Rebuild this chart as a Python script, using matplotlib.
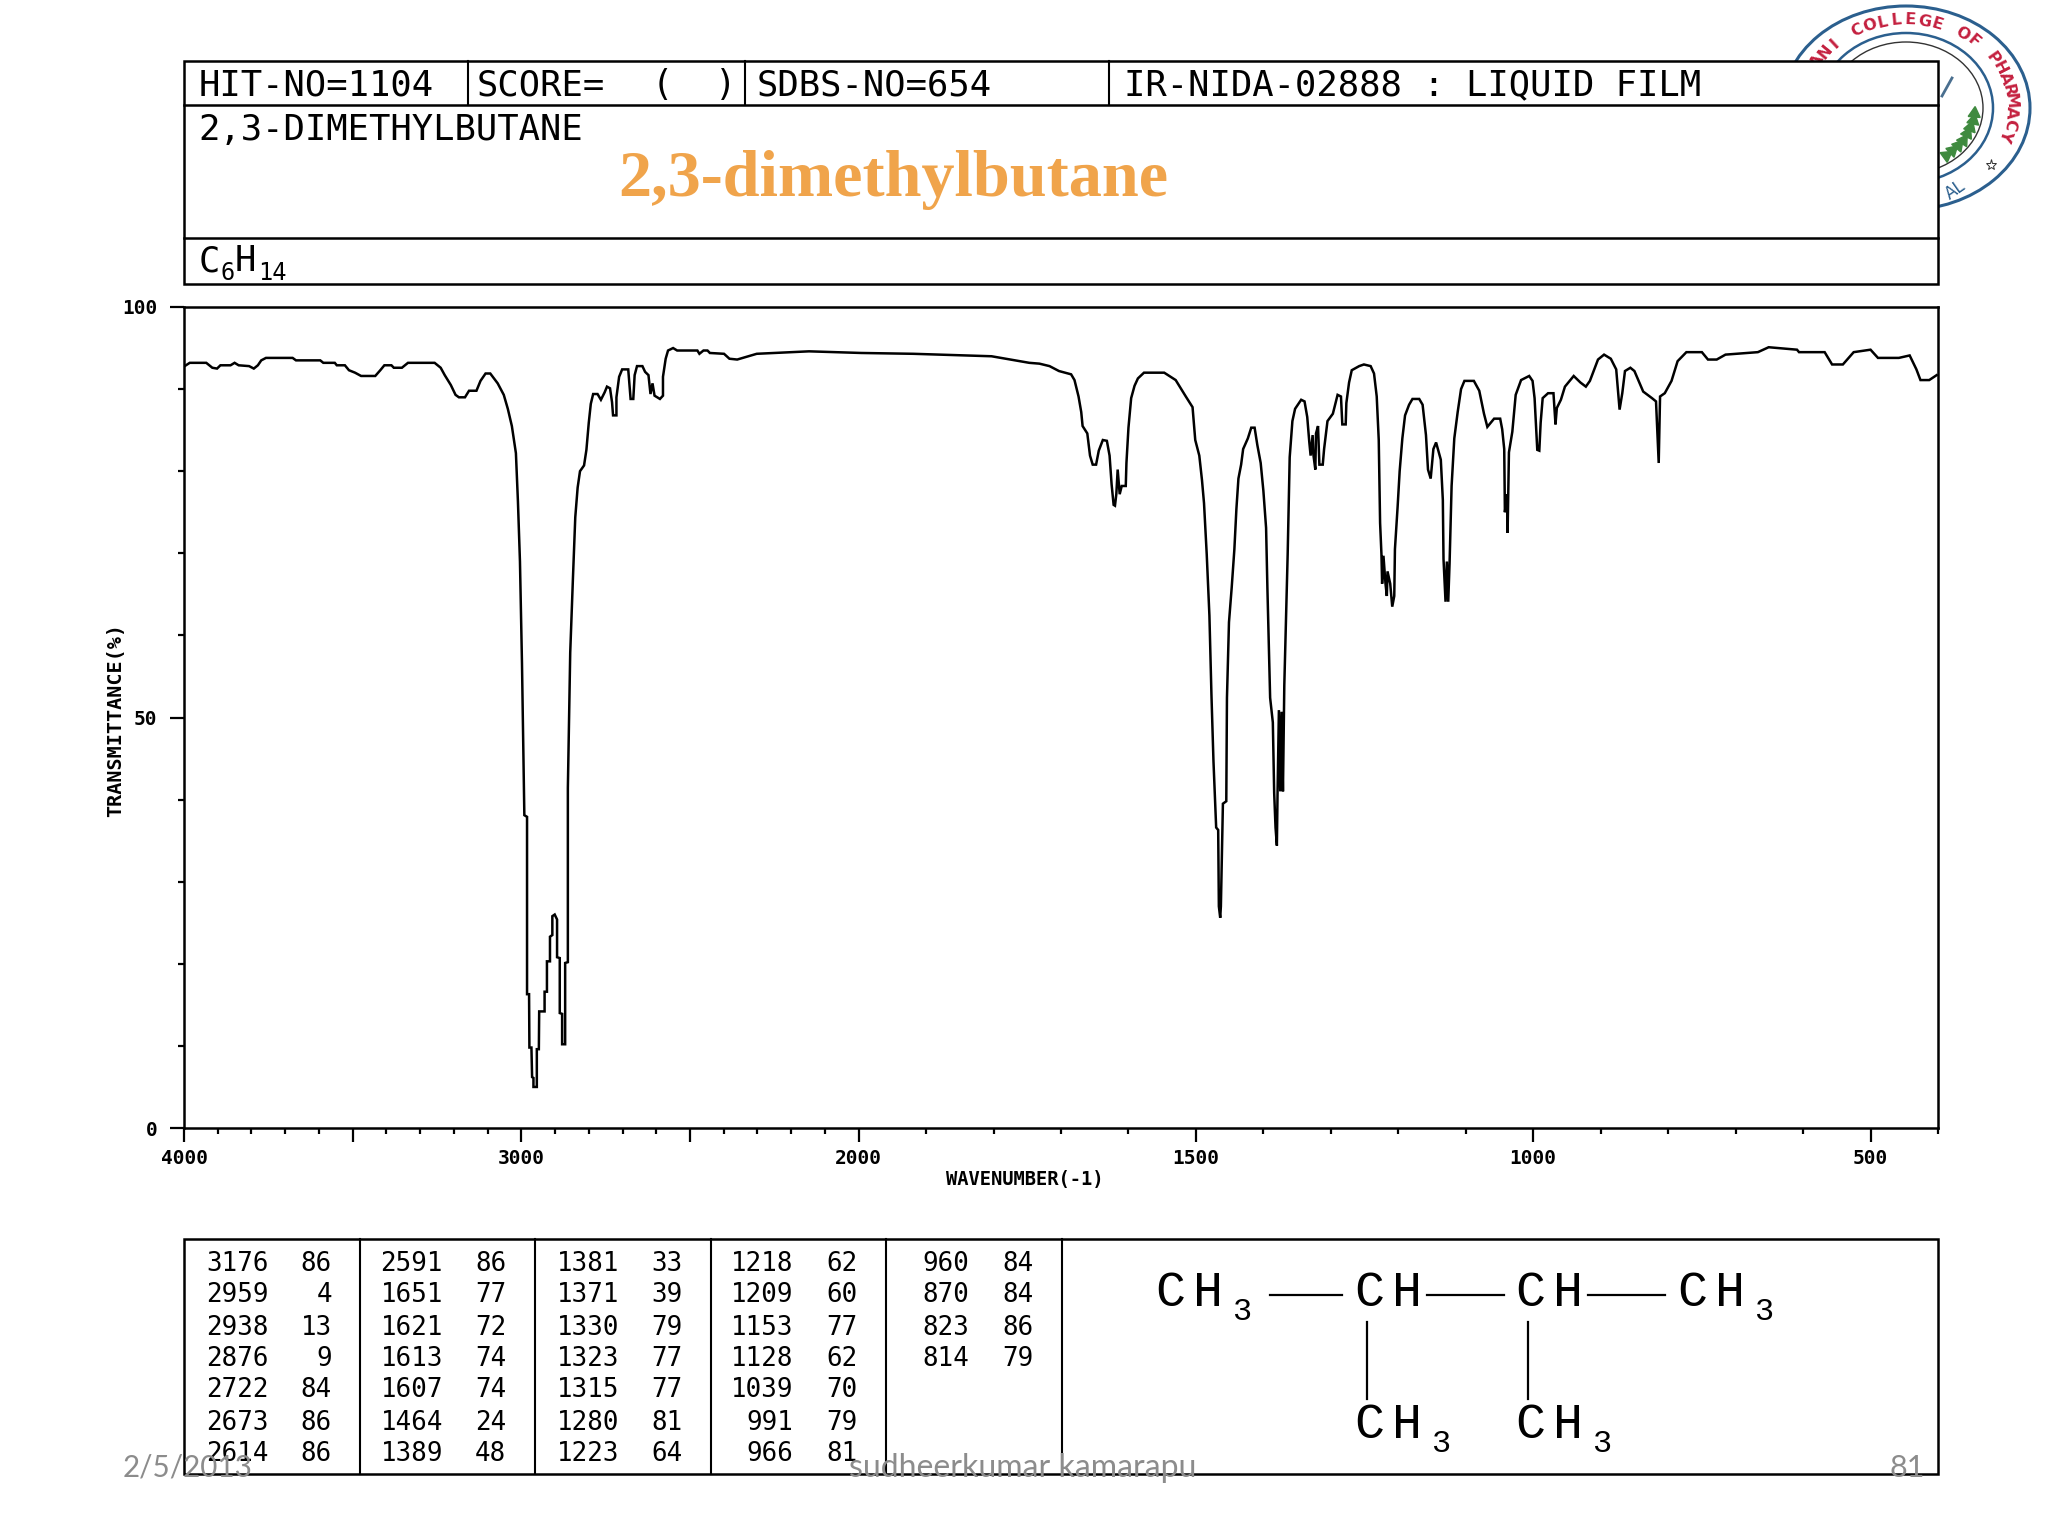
import numpy as np
import matplotlib
matplotlib.use("Agg")
import matplotlib.pyplot as plt
from matplotlib.patches import Rectangle, Ellipse

# spectrum (wavenumber, transmittance)
wavenumber = [3998, 3983, 3934, 3916, 3902, 3892, 3862, 3850, 3838, 3807, 3793, 3781, 3771, 3757, 3678, 3668,
              3596, 3587, 3553, 3547, 3523, 3511, 3493, 3475, 3433, 3418, 3406, 3385, 3378, 3354, 3336, 3257,
              3239, 3227, 3209, 3195, 3185, 3167, 3155, 3133, 3121, 3106, 3092, 3070, 3052, 3040, 3028, 3016,
              3010, 3004, 2998, 2991, 2983, 2983, 2977, 2976, 2970, 2968, 2964, 2964, 2954, 2954, 2948, 2947,
              2931, 2931, 2924, 2924, 2915, 2915, 2908, 2908, 2901, 2894, 2894, 2886, 2886, 2879, 2879, 2870,
              2870, 2862, 2862, 2855, 2847, 2840, 2833, 2826, 2814, 2807, 2800, 2794, 2787, 2774, 2764, 2753,
              2746, 2737, 2731, 2728, 2718, 2718, 2710, 2701, 2683, 2676, 2668, 2664, 2657, 2641, 2633, 2623,
              2617, 2611, 2605, 2589, 2580, 2580, 2572, 2565, 2550, 2538, 2478, 2472, 2460, 2448, 2441, 2399,
              2383, 2360, 2302, 2147, 1996, 1919, 1803, 1747, 1732, 1717, 1703, 1685, 1680, 1674, 1670, 1668,
              1661, 1657, 1653, 1648, 1644, 1638, 1632, 1628, 1625, 1622, 1620, 1618, 1616, 1613, 1610, 1604,
              1603, 1600, 1596, 1591, 1586, 1577, 1547, 1530, 1515, 1505, 1501, 1495, 1491, 1488, 1484, 1480,
              1477, 1474, 1470, 1467, 1466, 1464, 1463, 1460, 1455, 1454, 1451, 1447, 1443, 1440, 1437, 1433,
              1430, 1423, 1418, 1413, 1409, 1404, 1400, 1396, 1394, 1390, 1386, 1384, 1382, 1380, 1379, 1377,
              1375, 1373, 1371, 1369, 1364, 1361, 1357, 1353, 1344, 1339, 1335, 1332, 1330, 1327, 1326, 1323,
              1322, 1319, 1317, 1312, 1310, 1305, 1297, 1290, 1285, 1283, 1278, 1277, 1273, 1269, 1258, 1251,
              1241, 1236, 1232, 1229, 1227, 1225, 1224, 1222, 1219, 1217, 1216, 1212, 1209, 1206, 1205, 1201,
              1198, 1194, 1190, 1184, 1179, 1169, 1164, 1159, 1156, 1152, 1148, 1144, 1140, 1137, 1134, 1133,
              1130, 1128, 1126, 1124, 1121, 1117, 1112, 1107, 1102, 1088, 1080, 1073, 1068, 1058, 1049, 1046,
              1043, 1042, 1039, 1038, 1036, 1031, 1026, 1018, 1006, 1001, 998, 994, 991, 989, 986, 978, 970,
              967, 965, 959, 953, 940, 930, 922, 916, 904, 895, 885, 877, 872, 868, 864, 856, 850, 837, 824,
              818, 814, 812, 805, 795, 786, 773, 750, 741, 728, 715, 667, 651, 609, 606, 568, 557, 541, 525,
              500, 489, 458, 442, 432, 426, 413, 402]
transmittance = [92.8, 93.2, 93.2, 92.6, 92.5, 92.9, 92.9, 93.2, 92.9, 92.8, 92.5, 92.9, 93.5, 93.8, 93.8, 93.5,
                 93.5, 93.2, 93.2, 92.9, 92.9, 92.3, 92.0, 91.6, 91.6, 92.3, 92.9, 92.9, 92.6, 92.6, 93.2, 93.2,
                 92.6, 91.7, 90.5, 89.3, 89.0, 89.0, 89.8, 89.8, 91.0, 91.9, 91.9, 90.7, 89.3, 87.6, 85.5, 82.2,
                 76.3, 69.0, 56.6, 38.1, 37.9, 16.3, 16.3, 9.8, 9.8, 6.2, 6.1, 5.0, 5.0, 9.6, 9.6, 14.2,
                 14.2, 16.6, 16.6, 20.3, 20.3, 23.3, 23.5, 25.8, 26.0, 25.4, 20.8, 20.7, 14.0, 13.9, 10.2, 10.2,
                 20.1, 20.2, 41.4, 57.9, 66.9, 74.4, 78.0, 80.0, 80.7, 82.6, 85.9, 88.2, 89.4, 89.4, 88.7, 89.6,
                 90.3, 90.1, 88.4, 86.8, 86.8, 89.0, 91.5, 92.4, 92.4, 88.8, 88.8, 91.7, 92.8, 92.8, 92.1, 91.7,
                 89.4, 90.7, 89.2, 88.8, 89.2, 91.5, 93.7, 94.7, 95.0, 94.7, 94.7, 94.3, 94.7, 94.7, 94.4, 94.3,
                 93.7, 93.6, 94.3, 94.6, 94.4, 94.3, 94.0, 93.2, 93.1, 92.8, 92.2, 91.8, 91.1, 89.1, 87.2, 85.5,
                 84.6, 81.9, 80.8, 80.8, 82.5, 83.8, 83.7, 81.9, 78.4, 75.9, 75.8, 77.2, 80.2, 77.2, 78.2, 78.2,
                 81.0, 85.3, 88.9, 90.4, 91.3, 92.0, 92.0, 91.1, 89.1, 87.8, 83.8, 81.9, 78.9, 76.1, 69.9, 62.4,
                 52.8, 44.7, 36.6, 36.3, 27.0, 25.6, 27.0, 39.5, 39.8, 52.4, 61.6, 65.8, 70.5, 75.4, 79.1, 80.8,
                 82.7, 84.0, 85.3, 85.3, 83.2, 81.0, 77.6, 73.1, 65.6, 52.4, 49.4, 40.8, 36.6, 34.4, 40.8, 50.9,
                 41.0, 50.7, 41.0, 53.9, 69.9, 81.7, 86.1, 87.6, 88.7, 88.5, 86.6, 83.6, 81.9, 84.4, 82.1, 80.2,
                 84.6, 85.5, 80.8, 80.8, 82.7, 86.1, 87.0, 89.3, 89.1, 85.7, 85.7, 88.3, 90.8, 92.3, 92.8, 93.0,
                 92.8, 91.9, 89.1, 83.8, 73.7, 69.9, 66.3, 69.7, 66.3, 64.8, 67.8, 66.3, 63.5, 64.8, 70.5, 75.7,
                 80.0, 84.0, 86.8, 88.1, 88.8, 88.8, 88.1, 84.4, 80.2, 79.1, 82.7, 83.5, 82.3, 81.4, 76.5, 69.3,
                 64.1, 69.0, 64.1, 68.8, 78.2, 84.0, 87.2, 90.0, 91.0, 91.0, 89.8, 87.0, 85.4, 86.4, 86.4, 85.1,
                 82.7, 75.0, 77.2, 72.5, 82.3, 84.8, 89.3, 91.1, 91.6, 91.0, 88.9, 82.6, 82.5, 85.9, 88.9, 89.5, 89.5,
                 85.7, 87.7, 88.7, 90.3, 91.6, 90.8, 90.3, 91.0, 93.6, 94.2, 93.7, 92.4, 87.5, 89.5, 92.2, 92.6, 92.2, 89.7, 88.9,
                 88.5, 81.0, 89.1, 89.5, 91.0, 93.4, 94.5, 94.5, 93.6, 93.6, 94.2, 94.5, 95.1, 94.8, 94.5, 94.5, 93.0, 93.0, 94.5,
                 94.8, 93.8, 93.8, 94.1, 92.4, 91.1, 91.1, 91.7]

# peak table, one list per column block
peak_wn_1 = [3176, 2959, 2938, 2876, 2722, 2673, 2614]
peak_t_1 = [86, 4, 13, 9, 84, 86, 86]
peak_wn_2 = [2591, 1651, 1621, 1613, 1607, 1464, 1389]
peak_t_2 = [86, 77, 72, 74, 74, 24, 48]
peak_wn_3 = [1381, 1371, 1330, 1323, 1315, 1280, 1223]
peak_t_3 = [33, 39, 79, 77, 77, 81, 64]
peak_wn_4 = [1218, 1209, 1153, 1128, 1039, 991, 966]
peak_t_4 = [62, 60, 77, 62, 70, 79, 81]
peak_wn_5 = [960, 870, 823, 814]
peak_t_5 = [84, 84, 86, 79]

W, H = 2048, 1536
MONO = "DejaVu Sans Mono"
plt.rcParams["font.family"] = MONO


def fwd(w):
    # below 2000 the scale is stretched twice
    w = np.asarray(w, dtype=float)
    return np.where(w >= 2000, w, 2 * w - 2000)


def inv(v):
    v = np.asarray(v, dtype=float)
    return np.where(v >= 2000, v, (v + 2000) / 2)


fig = plt.figure(figsize=(W / 100, H / 100), dpi=100, facecolor="white")

# main spectrum
left, right, top, bottom = 184, 1938, 307, 1128
ax = fig.add_axes([left / W, 1 - bottom / H, (right - left) / W, (bottom - top) / H], zorder=2)
ax.set_xscale("function", functions=(fwd, inv))
ax.plot(wavenumber, transmittance, color="black", lw=1.8, solid_joinstyle="miter")
ax.set_xlim(4000, 400)
ax.set_ylim(0, 100)
ax.set_xticks([4000, 3500, 3000, 2500, 2000, 1500, 1000, 500])
ax.set_xticklabels(["4000", "", "3000", "", "2000", "1500", "1000", "500"], fontsize=14, weight="bold")
ax.set_xticks([w for w in range(400, 4000, 100) if w % 500 != 0], minor=True)
ax.set_yticks([0, 50, 100])
ax.set_yticklabels(["0", "50", "100"], fontsize=14, weight="bold")
ax.set_yticks([10, 20, 30, 40, 60, 70, 80, 90], minor=True)
ax.tick_params(which="major", length=10, width=1.6, pad=5)
ax.tick_params(which="minor", length=4.5, width=1.6)
ax.tick_params(axis="y", which="major", pad=9)
for s in ax.spines.values():
    s.set_linewidth(1.8)

# page overlay in pixel coordinates
pg = fig.add_axes([0, 0, 1, 1], zorder=3)
pg.set_xlim(0, W)
pg.set_ylim(H, 0)
pg.axis("off")
pg.patch.set_alpha(0)

# logo behind the header box
BLUE = "#2b5f8e"
RED = "#c4203f"
pg.add_patch(Ellipse((1906, 108), 248, 204, fill=False, ec=BLUE, lw=2.2, zorder=1))
pg.add_patch(Ellipse((1906, 108), 174, 150, fill=False, ec=BLUE, lw=1.8, zorder=1))
pg.add_patch(Ellipse((1906, 108), 154, 132, fill=False, ec="#333333", lw=1, zorder=1))
logo_text = "ANI COLLEGE OF PHARMACY"
for i, ch_ in enumerate(logo_text):
    ang = np.radians(148 - i * 7.55)
    pg.text(1906 + 105 * np.cos(ang), 108 - 88 * np.sin(ang), ch_, color=RED, fontsize=11.5,
            family="DejaVu Sans", weight="bold", ha="center", va="center",
            rotation=np.degrees(ang) - 90, zorder=1)
leaf_angles = [-5, -12, -19, -26, -33, -40, -47, -54]
for a in leaf_angles:
    r = np.radians(a)
    pg.plot(1906 + 68 * np.cos(r), 108 - 58 * np.sin(r), marker=(3, 0, a), ms=10, color="#3f8a3f", zorder=1)
pg.plot(1991, 165, marker="*", ms=8, mfc="white", mec="#333333", mew=0.7, zorder=1)
pg.text(1955, 190, "AL", color=BLUE, fontsize=12, family="DejaVu Sans", rotation=35, ha="center", va="center", zorder=1)
pg.plot([1942, 1952], [96, 78], color="#4a6f8f", lw=2, zorder=1)

# header box
LW = 1.8
pg.add_patch(Rectangle((184, 61), 1754, 223, fc="white", ec="black", lw=LW, zorder=2))
for y in [104.5, 238]:
    pg.plot([184, 1938], [y, y], color="black", lw=LW, zorder=3)
for x in [467.5, 744.5, 1109]:
    pg.plot([x, x], [61, 104.5], color="black", lw=1.5, zorder=3)


def mono(x, y, s, size=25.6, **kw):
    pg.text(x, y, s, fontsize=size, family=MONO, va="center", zorder=4, **kw)


mono(198.5, 85, "HIT-NO=1104")
mono(477, 85, "SCORE=")
mono(652, 85, "(")
mono(715, 85, ")")
mono(757, 85, "SDBS-NO=654")
mono(1124, 85, "IR-NIDA-02888 : LIQUID FILM")
mono(198.5, 130, "2,3-DIMETHYLBUTANE")
mono(198.5, 261, "C")
mono(235, 261, "H")
mono(220, 273, "6", size=17)
mono(258, 273, "14", size=17)

pg.text(618, 196, "2,3-dimethylbutane", fontsize=47.7, family="Liberation Serif", weight="bold",
        color="#f0a44b", va="baseline", ha="left", zorder=5)

# axis titles
pg.text(116, 720, "TRANSMITTANCE(%)", fontsize=14.5, weight="bold", rotation=90, ha="center", va="center")
pg.text(1025, 1180, "WAVENUMBER(-1)", fontsize=13.5, weight="bold", ha="center", va="center")

# peak table
pg.add_patch(Rectangle((184, 1239), 1754, 235, fc="none", ec="black", lw=LW, zorder=2))
for x in [360, 535, 711, 886, 1062]:
    pg.plot([x, x], [1239, 1474], color="black", lw=1.5, zorder=3)
row_y = [1264, 1295, 1328, 1359, 1390, 1423, 1454]
blocks = [(peak_wn_1, peak_t_1, 269, 332), (peak_wn_2, peak_t_2, 443, 506.5),
          (peak_wn_3, peak_t_3, 619, 682.5), (peak_wn_4, peak_t_4, 793.5, 857.5),
          (peak_wn_5, peak_t_5, 969.5, 1033.5)]
for wns, ts, x1, x2 in blocks:
    for y, w, t in zip(row_y, wns, ts):
        mono(x1, y, str(w), size=18.6, ha="right")
        mono(x2, y, str(t), size=18.6, ha="right")


# structure, letters spaced out and thinner than the header font
def big(x, y, s, size=36):
    pg.text(x, y, s, fontsize=size, family="Liberation Mono", va="center", zorder=4)


def ch3(x, y):
    big(x, y, "C")
    big(x + 38, y, "H")
    big(x + 77, y + 19, "3", size=23)


def ch(x, y):
    big(x, y, "C")
    big(x + 38, y, "H")


ch3(1155, 1293)
ch(1354, 1293)
ch(1515, 1293)
ch3(1677, 1293)
ch3(1354, 1425)
ch3(1515, 1425)
for x0, x1 in [(1270, 1342), (1427, 1504), (1588, 1665)]:
    pg.plot([x0, x1], [1295, 1295], color="black", lw=1.6, zorder=3)
for x in [1367, 1528]:
    pg.plot([x, x], [1322, 1399], color="black", lw=1.6, zorder=3)

# slide footer
GREY = "#8c8c8c"
pg.text(123, 1468, "2/5/2013", color=GREY, fontsize=21.3, family="Lato", va="center", zorder=6)
pg.text(1023, 1468, "sudheerkumar kamarapu", color=GREY, fontsize=23, family="Lato", ha="center", va="center", zorder=6)
pg.text(1925, 1468, "81", color=GREY, fontsize=22, family="Lato", ha="right", va="center", zorder=6)

fig.savefig("out.png", dpi=100)
